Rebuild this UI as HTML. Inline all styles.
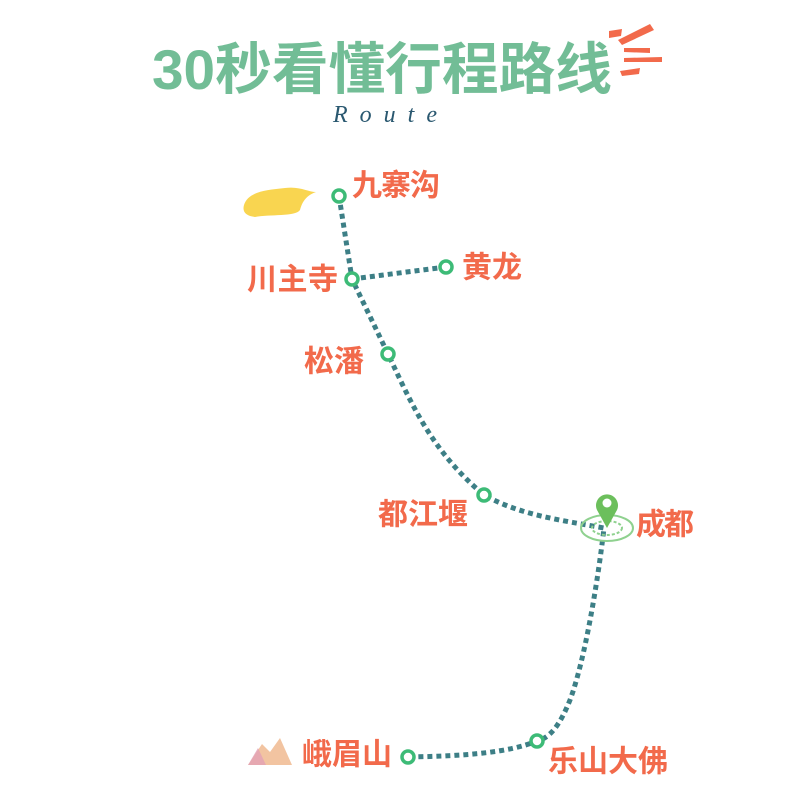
<!DOCTYPE html>
<html><head><meta charset="utf-8"><style>
body{margin:0;background:#fff;}
svg{display:block}
.l{font-family:"Liberation Sans","Noto Sans CJK SC",sans-serif;font-weight:bold;fill:#f26a4b;font-size:30px;dominant-baseline:central}
</style></head><body>
<svg width="800" height="800" viewBox="0 0 800 800">
<text x="152" y="89" font-family="'Liberation Sans','Noto Sans CJK SC',sans-serif" font-weight="bold" font-size="56" fill="#72bd96" textLength="460" lengthAdjust="spacingAndGlyphs">30秒看懂行程路线</text>
<g fill="#f26a4b">
<polygon points="609,31 622,29 621,36 609,38"/>
<polygon points="618,40 650,24 654,30 622,45"/>
<polygon points="624,48 650,48 650,53 624,52"/>
<polygon points="624,58 662,57 662,62 624,62"/>
<polygon points="620,71 640,68 639,74 622,76"/>
</g>
<text x="333" y="122" font-family="'Liberation Serif',serif" font-style="italic" font-size="24" fill="#2a5870" letter-spacing="12">Route</text>
<path d="M244,205 C248,192 265,190 285,188 C300,186 308,192 316,192 C305,196 302,203 300,210 C295,217 270,214 255,217 C246,216 242,212 244,205Z" fill="#f9d550"/>
<path d="M248,765 L262,744 L270,752 L280,738 L292,765Z" fill="#efb58a" opacity="0.8"/>
<path d="M248,765 L258,748 L266,765Z" fill="#e2a1b5" opacity="0.8"/>
<g fill="none" stroke="#3d7f86" stroke-width="5" stroke-dasharray="5,4">
<path d="M339,196 L352,279 L388,354 C410,400 430,450 484,495 C520,515 560,520 604,528 C598,580 585,660 570,700 C560,725 550,738 537,741 C510,752 470,756 408,757"/>
<path d="M352,279 L446,267"/>
</g>
<g fill="#fff" stroke="#3dbb77" stroke-width="3.5">
<circle cx="339" cy="196" r="6"/><circle cx="352" cy="279" r="6"/><circle cx="446" cy="267" r="6"/><circle cx="388" cy="354" r="6"/><circle cx="484" cy="495" r="6"/><circle cx="537" cy="741" r="6"/><circle cx="408" cy="757" r="6"/>
</g>
<g fill="none" stroke="#8fd18f" stroke-width="2">
<ellipse cx="607" cy="528" rx="26" ry="13"/><ellipse cx="607" cy="528" rx="15" ry="7" stroke-dasharray="3,2"/>
</g>
<path d="M607,528 L597,510 A11,11 0 1 1 617,510 Z" fill="#6cbf5c"/>
<circle cx="607" cy="503" r="4.5" fill="#fff"/>
<text class="l" x="352" y="186" textLength="88">九寨沟</text>
<text class="l" x="247" y="280" textLength="91">川主寺</text>
<text class="l" x="462" y="268" textLength="60">黄龙</text>
<text class="l" x="304" y="362" textLength="60">松潘</text>
<text class="l" x="378" y="515" textLength="90">都江堰</text>
<text class="l" x="636" y="525" textLength="58">成都</text>
<text class="l" x="302" y="755" textLength="90">峨眉山</text>
<text class="l" x="548" y="762" textLength="120">乐山大佛</text>
</svg>
</body></html>
